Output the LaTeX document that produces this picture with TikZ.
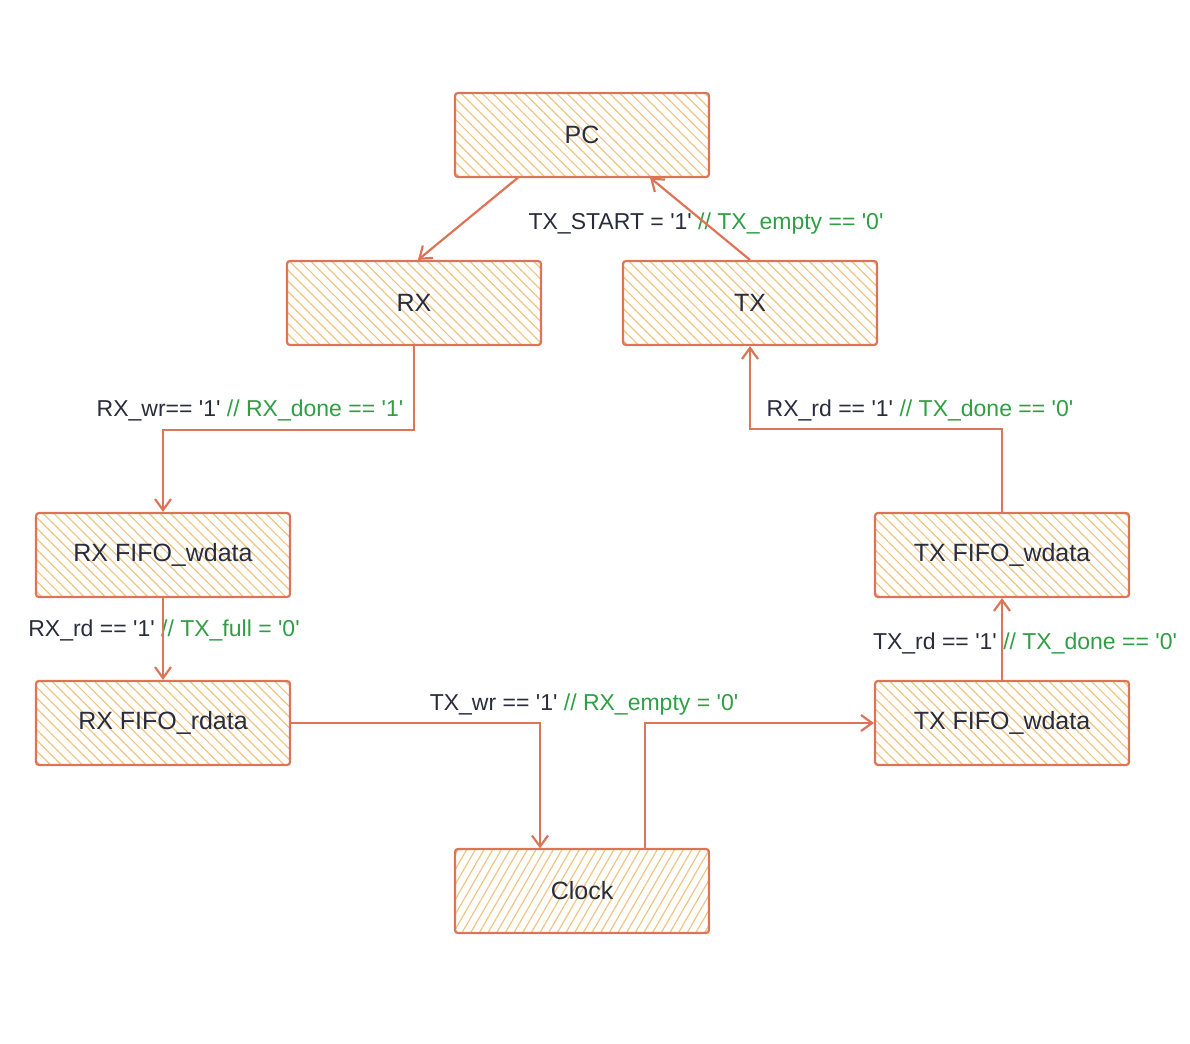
\documentclass[tikz,border=0pt]{standalone}
\usepackage{fontspec}
\setmainfont{Liberation Sans}
\usetikzlibrary{arrows.meta,patterns.meta}
\definecolor{stroke}{RGB}{221,116,88}
\definecolor{hatch}{RGB}{240,196,130}
\definecolor{ink}{RGB}{40,44,60}
\definecolor{cond}{RGB}{47,158,68}
\newcommand{\bw}{254pt}
\newcommand{\bh}{84pt}
\newcommand{\sq}{\textquotesingle}

\begin{document}
\begin{tikzpicture}[x=1pt,y=-1pt,
    box/.style={draw=stroke, line width=2.2pt, rounded corners=3pt, rectangle, minimum width=\bw, minimum height=\bh, inner sep=0pt,
        pattern={Lines[angle=-45,distance=7.5pt,line width=1.2pt]}, pattern color=hatch, text=ink,
        font=\fontsize{25}{30}\selectfont},
    boxr/.style={box, pattern={Lines[angle=60,distance=7.5pt,line width=1.2pt]}},
    link/.style={draw=stroke, line width=2.2pt, -{Straight Barb[length=11pt,width=16pt,line width=2.2pt]}},
    lbl/.style={text=ink, inner sep=0pt, font=\fontsize{23}{28}\selectfont}]
    \useasboundingbox (0,0) rectangle (1190,1043);

    % Boxes
    \node[box] (pc) at (582,135) {PC};
    \node[box] (rx) at (414,303) {RX};
    \node[box] (tx) at (750,303) {TX};
    \node[box] (rxw) at (163,555) {RX FIFO\_wdata};
    \node[box] (txw) at (1002,555) {TX FIFO\_wdata};
    \node[box] (rxr) at (163,723) {RX FIFO\_rdata};
    \node[box] (txr) at (1002,723) {TX FIFO\_wdata};
    \node[boxr] (clk) at (582,891) {Clock};

    % Labels
    \node[lbl] (l-tx) at (706,224) {TX\_START = \sq1\sq{} \textcolor{cond}{// TX\_empty == \sq0\sq}};
    \node[lbl] (l-rx) at (250,410) {RX\_wr== \sq1\sq{} \textcolor{cond}{// RX\_done == \sq1\sq}};
    \node[lbl] (l-rxw) at (164,630) {RX\_rd == \sq1\sq{} \textcolor{cond}{// TX\_full = \sq0\sq}};
    \node[lbl] (l-rxr) at (584,705) {TX\_wr == \sq1\sq{} \textcolor{cond}{// RX\_empty = \sq0\sq}};
    \node[lbl] (l-txr) at (1025,643) {TX\_rd == \sq1\sq{} \textcolor{cond}{// TX\_done == \sq0\sq}};
    \node[lbl] (l-txw) at (920,410) {RX\_rd == \sq1\sq{} \textcolor{cond}{// TX\_done == \sq0\sq}};

    % Links
    \draw[link] ([xshift=-64pt]pc.south) -- ([xshift=4pt]rx.north);
    \draw[link] (tx.north) -- ([xshift=68pt]pc.south);
    \draw[link] (rx.south) -- ++(0,84) -| (rxw.north);
    \draw[link] (rxw.south) -- (rxr.north);
    \draw[link] (rxr.east) -| ([xshift=-42pt]clk.north);
    \draw[link] ([xshift=63pt]clk.north) |- (txr.west);
    \draw[link] (txr.north) -- (txw.south);
    \draw[link] (txw.north) -- ++(0,-83) -| (tx.south);
\end{tikzpicture}
\end{document}
